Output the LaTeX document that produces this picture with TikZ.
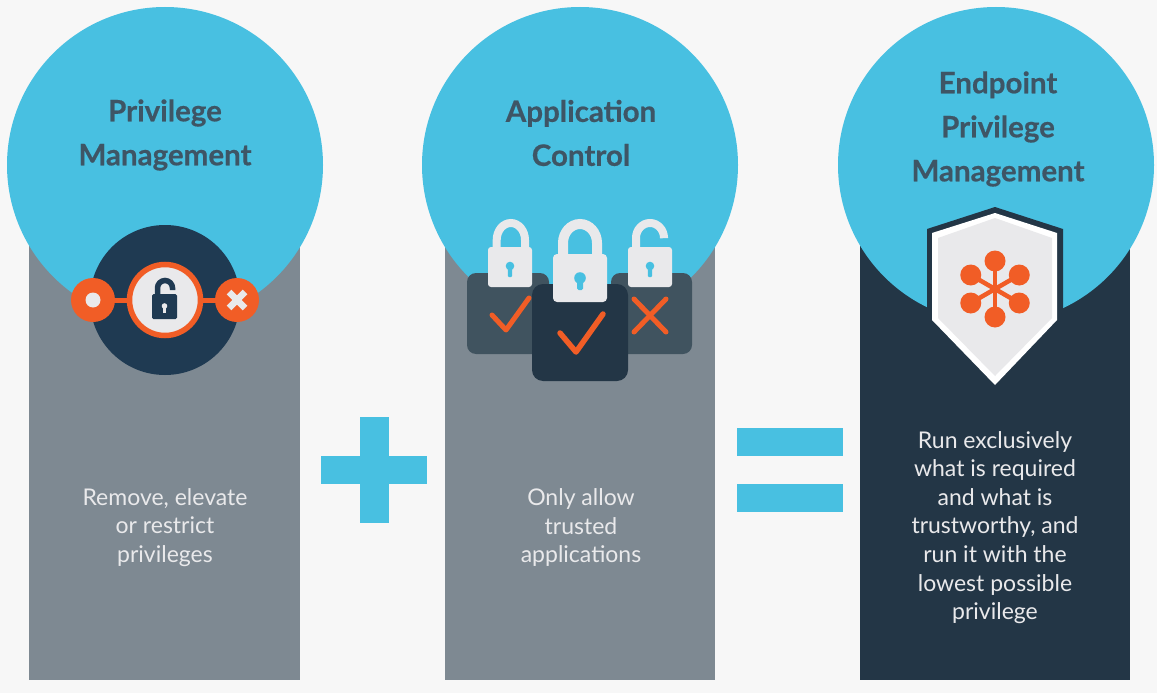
\documentclass[tikz,border=0pt]{standalone}
\usepackage{fontspec}
\setmainfont{Lato}
\newfontfamily\titlefont[BoldFeatures={FakeBold=0.5}]{Lato}
\definecolor{pagebg}{HTML}{F7F7F7}
\definecolor{skyblue}{HTML}{48C0E1}
\definecolor{slategray}{HTML}{7E8992}
\definecolor{navy}{HTML}{233646}
\definecolor{midnavy}{HTML}{1F3A52}
\definecolor{softnavy}{HTML}{40535F}
\definecolor{flame}{HTML}{F15D26}
\definecolor{paper}{HTML}{E9E9EB}
\definecolor{titleink}{HTML}{3E5565}
\tikzset{
  titletext/.style={text=titleink,align=center,font=\fontsize{29.5}{44}\titlefont\bfseries},
  bodytext/.style={text=paper,align=center,font=\fontsize{23}{28.6}\selectfont},
  markline/.style={draw=flame,line width=5,line cap=round,line join=round},
  shackle/.style={draw=paper,line cap=butt},
}
\begin{document}
\begin{tikzpicture}[x=1pt,y=-1pt]

  \path [fill=pagebg] (0,0) rectangle (1157,693);
  \useasboundingbox (0,0) rectangle (1157,693);

  % columns
  \path [fill=slategray] (29,200) rectangle (300,680);
  \path [fill=slategray] (445,200) rectangle (715,680);
  \path [fill=navy] (860,200) rectangle (1130,680);

  % circles
  \path [fill=skyblue] (165,165) circle (158);
  \path [fill=skyblue] (580,165) circle (158);
  \path [fill=skyblue] (996,165) circle (158);

  % plus and equals
  \path [fill=skyblue] (321,456) rectangle (427,484);
  \path [fill=skyblue] (360,417) rectangle (389,523);
  \path [fill=skyblue] (737,428) rectangle (843,456);
  \path [fill=skyblue] (737,484) rectangle (843,512);

  % first icon
  \path [fill=midnavy] (165,300) circle (75);
  \draw [flame,line width=5] (93,300) -- (237,300);
  \path [fill=paper,draw=flame,line width=5.5] (165,300) circle (35.5);
  \path [fill=flame] (93,300) circle (22);
  \path [fill=flame] (237,300) circle (22);
  \path [fill=paper] (93,300) circle (7.5);
  \draw [paper,line width=6.5] (229,292) -- (245,308);
  \draw [paper,line width=6.5] (245,292) -- (229,308);
  \draw [midnavy,line width=5.5] (157.5,296) -- (157.5,288) arc (180:360:7.5) -- (172.5,290);
  \path [fill=midnavy,rounded corners=1.5] (152,294) rectangle (177,319);
  \path [fill=paper] (164.5,306) circle (2.8);
  \path [fill=paper] (163,306) rectangle (166,313);

  % second icon
  \path [fill=softnavy,rounded corners=9] (467,273) rectangle (549,354);
  \path [fill=softnavy,rounded corners=9] (611,273) rectangle (692,354);
  \path [fill=navy,rounded corners=11] (532,284) rectangle (628,381);

  \draw [shackle,line width=8] (496.7,250) -- (496.7,240) arc (180:360:14.15 and 17) -- (525,250);
  \path [fill=paper,rounded corners=3] (488,247) rectangle (532,287);
  \path [fill=skyblue] (510,266) circle (4.3);
  \path [fill=skyblue,rounded corners=1] (507.8,266) rectangle (512.2,277);

  \draw [shackle,line width=8] (636,250) -- (636,238) arc (180:360:14 and 15) -- (664,237);
  \path [fill=paper,rounded corners=3] (628,247) rectangle (672,287);
  \path [fill=skyblue] (650,266) circle (4.3);
  \path [fill=skyblue,rounded corners=1] (647.8,266) rectangle (652.2,277);

  \draw [markline] (492,315) -- (506,330) -- (529,298);
  \draw [markline] (634,299) -- (666,332);
  \draw [markline] (666,299) -- (634,332);

  \draw [shackle,line width=10] (563,258) -- (563,243) arc (180:360:17 and 19) -- (597,258);
  \path [fill=paper,rounded corners=4] (553,254) rectangle (607,302);
  \path [fill=skyblue] (580,278) circle (5.8);
  \path [fill=skyblue,rounded corners=1.5] (577,278) rectangle (583,290);
  \draw [markline,line width=5.5] (560,333) -- (576,352) -- (603,314);

  % third icon
  \path [fill=navy] (995,207) -- (927,229) -- (927,320) -- (1063,320) -- (1063,229) -- cycle;
  \path [fill=white] (995,213) -- (932,233) -- (932,320) -- (995,385) -- (1057,320) -- (1057,233) -- cycle;
  \path [fill=paper] (995,218) -- (938,238) -- (938,318) -- (995,376) -- (1052,318) -- (1052,238) -- cycle;
  \foreach \a in {30,90,150,210,270,330} {
    \draw [flame,line width=4.5] (995,289) -- +(\a:28);
    \path [fill=flame] (995,289) ++(\a:28) circle (10.5);
  }

  % texts
  \node [titletext] (privilegetitle) at (165,135) {Privilege\\Management};
  \node [titletext] (controltitle) at (581,133) {Application\\Control};
  \node [titletext] (endpointtitle) at (998,129) {Endpoint\\Privilege\\Management};
  \node [bodytext] (privilegebody) at (165,527.5) {Remove, elevate\\or restrict\\privileges};
  \node [bodytext] (controlbody) at (581,527.5) {Only allow\\trusted\\applications};
  \node [bodytext] (endpointbody) at (995,527.5) {Run exclusively\\what is required\\and what is\\trustworthy, and\\run it with the\\lowest possible\\privilege};

\end{tikzpicture}
\end{document}
